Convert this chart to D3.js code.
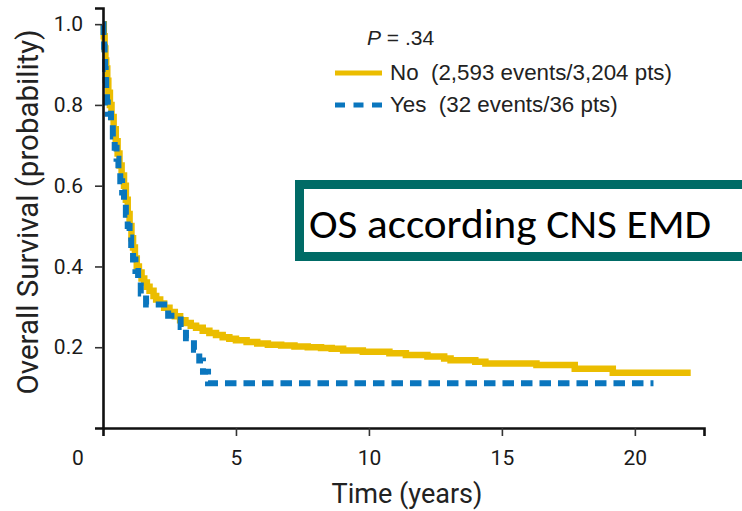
<!DOCTYPE html>
<html>
<head>
<meta charset="utf-8">
<script src="https://cdn.jsdelivr.net/npm/d3@7/dist/d3.min.js"></script>
<style>
  html, body { margin: 0; padding: 0; background: #fff; }
  svg { display: block; }
  text { white-space: pre; }
</style>
</head>
<body>
<svg id="chart" width="742" height="511"></svg>
<script>
// Kaplan-Meier overall survival by CNS extramedullary disease
const noTime = [0, 0.03, 0.06, 0.09, 0.12, 0.16, 0.2, 0.26, 0.32, 0.4, 0.48, 0.55, 0.62, 0.7, 0.79,
  0.86, 0.93, 1.0, 1.07, 1.13, 1.2, 1.27, 1.35, 1.45, 1.55, 1.65, 1.75, 1.9, 2.0, 2.15, 2.3, 2.5,
  2.7, 2.9, 3.1, 3.3, 3.5, 3.75, 4.0, 4.25, 4.5, 4.75, 5.0, 5.4, 5.8, 6.2, 6.7, 7.2, 7.7, 8.2, 8.6,
  9.03, 9.77, 10.77, 11.39, 12.2, 12.83, 13.07, 14.0, 14.38, 16.3, 17.74, 19.17, 22.1];
const noSurv = [1.0, 0.97, 0.94, 0.91, 0.89, 0.86, 0.83, 0.80, 0.77, 0.74, 0.71, 0.68, 0.65, 0.625, 0.60,
  0.565, 0.53, 0.50, 0.47, 0.447, 0.42, 0.40, 0.385, 0.37, 0.36, 0.35, 0.34, 0.327, 0.318, 0.308, 0.298, 0.287,
  0.277, 0.267, 0.26, 0.253, 0.248, 0.241, 0.235, 0.23, 0.225, 0.221, 0.217, 0.213, 0.209, 0.206, 0.204, 0.202, 0.2, 0.198, 0.196,
  0.192, 0.189, 0.185, 0.181, 0.177, 0.172, 0.168, 0.164, 0.16, 0.156, 0.147, 0.137, 0.137];

const yesTime = [0, 0.02, 0.04, 0.06, 0.08, 0.10, 0.12, 0.15, 0.18, 0.30, 0.37, 0.44, 0.51, 0.58, 0.65,
  0.72, 0.79, 0.86, 0.93, 1.0, 1.06, 1.13, 1.22, 1.32, 1.42, 1.62, 2.45, 2.92, 3.12, 3.42, 3.62, 3.76, 3.95, 20.7];
const yesSurv = [1.000, 0.972, 0.944, 0.917, 0.889, 0.861, 0.833, 0.806, 0.778, 0.750, 0.722, 0.694, 0.667, 0.639, 0.611,
  0.583, 0.556, 0.528, 0.500, 0.472, 0.444, 0.417, 0.389, 0.361, 0.333, 0.306, 0.278, 0.250, 0.222, 0.194, 0.167, 0.139, 0.111, 0.111];

const xTicks = [5, 10, 15, 20];
const yTicks = [0.2, 0.4, 0.6, 0.8, 1.0];
const seriesNames = ["No", "Yes"];
const legendLabels = ["No  (2,593 events/3,204 pts)", "Yes  (32 events/36 pts)"];
const pValue = " = .34";
const boxTitle = "OS according CNS EMD";

const YELLOW = "#EBBD00";
const BLUE = "#0A76BE";
const TEAL = "#006B66";

const svg = d3.select("#chart");
svg.append("rect").attr("width", 742).attr("height", 511).attr("fill", "#fff");

const x = d3.scaleLinear().domain([0, 22.6]).range([103, 704]);
const y = d3.scaleLinear().domain([0, 1.04]).range([428, 8]);

// curves
const line = d3.line().curve(d3.curveStepAfter).x(d => x(d[0])).y(d => y(d[1]));
const noData = noTime.map((t, i) => [t, noSurv[i]]);
const yesData = yesTime.map((t, i) => [t, yesSurv[i]]);

svg.append("path").datum(noData).attr("d", line)
  .attr("fill", "none").attr("stroke", YELLOW).attr("stroke-width", 6.5)
  .attr("stroke-linejoin", "miter");
svg.append("path").datum(yesData).attr("d", line)
  .attr("fill", "none").attr("stroke", BLUE).attr("stroke-width", 6)
  .attr("stroke-dasharray", "11.5,7");

// axes
const yAxis = svg.append("g").attr("transform", `translate(${x(0)},0)`)
  .call(d3.axisLeft(y).tickValues(yTicks).tickFormat(d3.format(".1f")).tickSize(8).tickPadding(12));
const xAxis = svg.append("g").attr("transform", `translate(0,${y(0)})`)
  .call(d3.axisBottom(x).tickValues(xTicks).tickFormat(d3.format("d")).tickSize(8).tickPadding(14));
[yAxis, xAxis].forEach(g => {
  g.select(".domain").attr("stroke", "#111").attr("stroke-width", 2.6);
  g.selectAll(".tick line").attr("stroke", "#333").attr("stroke-width", 1.6);
  g.selectAll(".tick text").attr("fill", "#1a1a1a")
    .style("font-family", "Roboto, 'Liberation Sans', sans-serif").style("font-size", "21px");
});
xAxis.append("text").attr("x", x(0) - 25).attr("y", 22).attr("dy", "0.71em")
  .attr("text-anchor", "middle").attr("fill", "#1a1a1a")
  .style("font-family", "Roboto, 'Liberation Sans', sans-serif").style("font-size", "21px").text("0");

// axis titles, sized to their span
function fitText(sel, target) {
  const w = sel.node().getComputedTextLength();
  const fs = parseFloat(sel.style("font-size"));
  sel.style("font-size", (fs * target / w).toFixed(2) + "px");
}
const xTitle = svg.append("text").attr("x", 407).attr("y", 503).attr("text-anchor", "middle")
  .attr("fill", "#222").style("font-family", "Roboto, sans-serif").style("font-size", "27px")
  .text("Time (years)");
fitText(xTitle, 151);
const yTitle = svg.append("text").attr("transform", "translate(38,212) rotate(-90)")
  .attr("text-anchor", "middle").attr("fill", "#222")
  .style("font-family", "Roboto, sans-serif").style("font-size", "28px")
  .text("Overall Survival (probability)");
fitText(yTitle, 365);

// legend
const legFont = "'Liberation Sans', Arial, sans-serif";
svg.append("text").attr("x", 367).attr("y", 45).attr("fill", "#222")
  .style("font-family", legFont).style("font-size", "21px")
  .call(t => {
    t.append("tspan").style("font-style", "italic").text("P");
    t.append("tspan").text(pValue);
  });
const legY = [73, 105];
const legColors = [YELLOW, BLUE];
const legDash = [null, "10,8.5"];
const legText = [];
seriesNames.forEach((name, i) => {
  svg.append("line").attr("x1", 335).attr("x2", 382).attr("y1", legY[i]).attr("y2", legY[i])
    .attr("stroke", legColors[i]).attr("stroke-width", 5).attr("stroke-dasharray", legDash[i]);
  legText.push(svg.append("text").attr("x", 390).attr("y", legY[i] + 7).attr("fill", "#222")
    .style("font-family", legFont).style("font-size", "21px").text(legendLabels[i]));
});
fitText(legText[0], 282);
legText[1].style("font-size", legText[0].style("font-size"));

// annotation box; the title keeps a tall, narrow face across its span
svg.append("rect").attr("x", 299.5).attr("y", 184.5).attr("width", 460).attr("height", 72)
  .attr("fill", "#fff").attr("stroke", TEAL).attr("stroke-width", 9);
svg.append("text").attr("x", 309).attr("y", 238).attr("fill", "#000")
  .style("font-family", "Carlito, Lato, 'Open Sans', sans-serif").style("font-size", "41px")
  .attr("textLength", 402).attr("lengthAdjust", "spacingAndGlyphs")
  .text(boxTitle);
</script>
</body>
</html>
